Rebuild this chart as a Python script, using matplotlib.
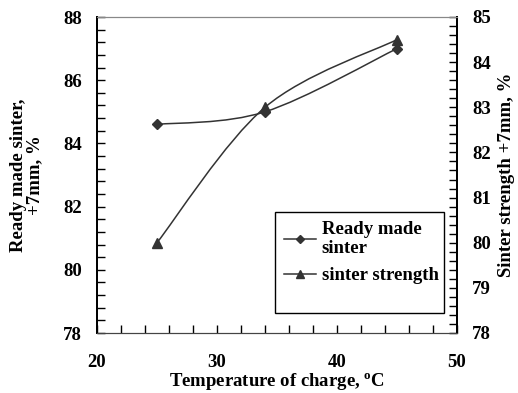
import numpy as np
import matplotlib.pyplot as plt
from matplotlib.path import Path
from matplotlib.patches import PathPatch, Rectangle
from matplotlib.lines import Line2D
from matplotlib.ticker import MultipleLocator

plt.rcParams['font.family'] = ['Liberation Serif', 'DejaVu Serif']
plt.rcParams['font.weight'] = 'bold'

# datos
temperatura = [25, 34, 45]
sinter_listo = [84.6, 85.0, 87.0]
resistencia = [80.0, 83.0, 84.5]

color_linea = '#333333'
tam = 13.5


def curva_suave(ax, xs, ys):
    # suavizado tipo Excel: bezier cubica con tension 1/6
    pts = np.column_stack([xs, ys]).astype(float)
    ext = np.vstack([pts[0], pts, pts[-1]])
    verts = [pts[0]]
    codes = [Path.MOVETO]
    for i in range(len(pts) - 1):
        p0, p1, p2, p3 = ext[i], ext[i + 1], ext[i + 2], ext[i + 3]
        c1 = p1 + (p2 - p0) / 6
        c2 = p2 - (p3 - p1) / 6
        verts += [c1, c2, p2]
        codes += [Path.CURVE4] * 3
    ax.add_patch(PathPatch(Path(verts, codes), facecolor='none',
                           edgecolor=color_linea, lw=1.1, zorder=2))


fig = plt.figure(figsize=(5.18, 3.93), dpi=100)
ax = fig.add_axes([97 / 518, 60 / 393, 360 / 518, 316 / 393])
ax2 = ax.twinx()

curva_suave(ax, temperatura, sinter_listo)
ax.plot(temperatura, sinter_listo, ls='none', marker='D', ms=5.5,
        color=color_linea, zorder=3)
curva_suave(ax2, temperatura, resistencia)
ax2.plot(temperatura, resistencia, ls='none', marker='^', ms=7,
         color=color_linea, zorder=3)

ax.set_xlim(20, 50)
ax.set_ylim(78, 88)
ax2.set_ylim(78, 85)
ax.xaxis.set_major_locator(MultipleLocator(10))
ax.xaxis.set_minor_locator(MultipleLocator(2))
ax.yaxis.set_major_locator(MultipleLocator(2))
ax.yaxis.set_minor_locator(MultipleLocator(0.4))
ax2.yaxis.set_major_locator(MultipleLocator(1))
ax2.yaxis.set_minor_locator(MultipleLocator(0.2))

ax.tick_params(axis='both', which='major', direction='in', length=6,
               labelsize=tam, width=1)
ax.tick_params(axis='both', which='minor', direction='in', length=6, width=1)
ax.tick_params(axis='x', pad=15)
ax.tick_params(axis='y', pad=11)
ax2.tick_params(axis='y', which='major', direction='in', length=6,
                labelsize=tam, width=1, pad=11)
ax2.tick_params(axis='y', which='minor', direction='in', length=6, width=1)

for a in (ax, ax2):
    a.spines['top'].set_color('#888888')
    a.spines['bottom'].set_color('#444444')
    a.spines['left'].set_color('black')
    a.spines['right'].set_color('black')
    a.spines['left'].set_linewidth(1.3)
    a.spines['right'].set_linewidth(1.3)

ax.set_xlabel('Temperature of charge, $\\mathregular{^o}$C', fontsize=tam,
              fontweight='bold', labelpad=0)
ax.set_ylabel('Ready made sinter,\n+7mm, %', fontsize=tam, fontweight='bold',
              labelpad=14, linespacing=0.95)
ax2.set_ylabel('Sinter strength +7mm, %', fontsize=tam, fontweight='bold')
ax2.yaxis.set_label_coords((498 - 97) / 360, 0.5)

# marco de la leyenda con el espacio vacio de abajo, como en el original
ax.add_patch(Rectangle((0.494, 0.063), 0.47, 0.32, transform=ax.transAxes,
                       facecolor='white', edgecolor='black', lw=1.0,
                       zorder=4))
manijas = [Line2D([], [], color=color_linea, marker='D', ms=4.5, lw=1.1),
           Line2D([], [], color=color_linea, marker='^', ms=6, lw=1.1)]
leg = ax.legend(manijas, ['Ready made\nsinter', 'sinter strength'],
                loc='upper left', bbox_to_anchor=(0.494, 0.383),
                frameon=False, fontsize=tam, handlelength=1.7,
                handletextpad=0.3, borderpad=0.5, labelspacing=0.55,
                borderaxespad=0.0)
for t in leg.get_texts():
    t.set_linespacing(1.1)
leg.set_zorder(5)

fig.savefig('out.png', dpi=100)
